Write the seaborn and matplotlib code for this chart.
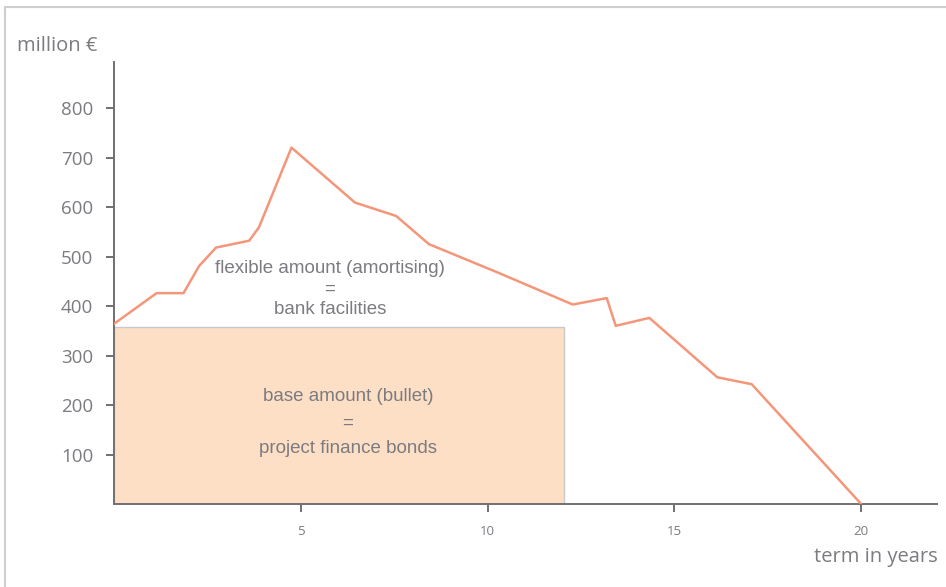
import numpy as np
import pandas as pd
import matplotlib
matplotlib.use("Agg")
import matplotlib.pyplot as plt
import seaborn as sns
from matplotlib.patches import Rectangle

# term in years / total financing need in million EUR
term_years = [0.0, 1.14, 1.86, 2.28, 2.73, 3.62, 3.88, 4.75, 6.45, 7.55, 8.43,
              10.23, 12.28, 13.19, 13.43, 14.33, 16.15, 17.07, 20.0]
amount_meur = [364, 426, 426, 481, 518, 532, 559, 720, 609, 582, 525,
               469, 403, 416, 360, 376, 256, 242, 0]

# bullet tranche (bonds)
base_start = 0
base_end = 12.05
base_amount = 358

y_ticks = [100, 200, 300, 400, 500, 600, 700, 800]
x_ticks = [5, 10, 15, 20]

line_col = "#F4967A"
fill_col = "#FDDFC5"
axis_col = "#6f6f74"
text_col = "#7b7b80"

df = pd.DataFrame({"term": term_years, "amount": amount_meur})

sns.set_style("white")
plt.rcParams["font.family"] = ["Open Sans", "DejaVu Sans"]

fig = plt.figure(figsize=(9.46, 5.87), dpi=100)
ax = fig.add_axes([114 / 946, 1 - 504 / 587, (937 - 114) / 946, (504 - 62) / 587])

ax.add_patch(Rectangle((base_start, 0), base_end - base_start, base_amount,
                       facecolor=fill_col, edgecolor="#c9c9c9", lw=1, zorder=1))

sns.lineplot(data=df, x="term", y="amount", ax=ax, color=line_col, lw=1.8,
             zorder=3, legend=False)

ax.set_xlim(0, 22.03)
ax.set_ylim(0, 893)
ax.set_xticks(x_ticks)
ax.set_yticks(y_ticks)
ax.set_xlabel("")
ax.set_ylabel("")

for s in ["top", "right"]:
    ax.spines[s].set_visible(False)
for s in ["left", "bottom"]:
    ax.spines[s].set_color(axis_col)
    ax.spines[s].set_linewidth(1.4)

ax.tick_params(axis="y", direction="out", length=6, width=1.4, color=axis_col,
               labelcolor=text_col, labelsize=13.5, pad=9, left=True)
ax.tick_params(axis="x", direction="out", length=6, width=1.4, color=axis_col,
               labelcolor=text_col, labelsize=9.5, pad=9, bottom=True)

fig.text(17 / 946, 1 - 46 / 587, "million €", color=text_col, fontsize=14.5,
         ha="left", va="center")
fig.text(938 / 946, 1 - 557 / 587, "term in years", color=text_col, fontsize=14.5,
         ha="right", va="center")

ax.text(5.78, 434, "flexible amount (amortising)\n=\nbank facilities",
        ha="center", va="center", color=text_col, fontsize=13.5,
        family=["Liberation Sans", "DejaVu Sans"], linespacing=1.28, zorder=4)
ax.text(6.26, 164, "base amount (bullet)\n=\nproject finance bonds",
        ha="center", va="center", color=text_col, fontsize=13.5,
        family=["Liberation Sans", "DejaVu Sans"], linespacing=1.7, zorder=4)

# light frame around the picture
fig.patches.append(Rectangle((5 / 946, -0.05), 1.2, 1.05 - 7 / 587,
                             transform=fig.transFigure, fill=False,
                             edgecolor="#cfcfcf", lw=1.5))

fig.savefig("out.png", dpi=100)
